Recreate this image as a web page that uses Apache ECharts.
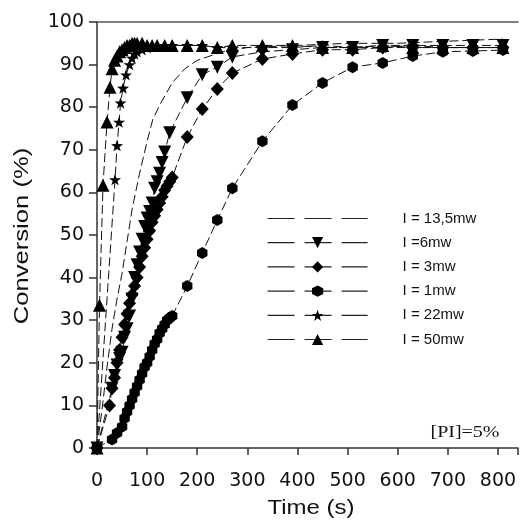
<!DOCTYPE html>
<html><head><meta charset="utf-8">
<script src="https://cdn.jsdelivr.net/npm/echarts@6/dist/echarts.min.js"></script>
<style>html,body{margin:0;padding:0;background:#fff}#c{width:521px;height:528px}</style>
</head><body><div id="c"></div>
<script>
// Data
var t135 = [0, 10, 20, 30, 40, 50, 60, 70, 85, 100, 111, 125, 150, 175, 200, 250, 300, 400, 500, 600, 700, 810];
var c135 = [0, 9, 19, 28, 35, 41, 48.5, 56, 64.5, 72, 77, 80.5, 85.7, 89, 91, 93, 94, 94.5, 95, 95, 95.5, 96];

var t6 = [0, 30, 35, 40, 45, 50, 55, 60, 65, 70, 75, 80, 85, 90, 95, 100, 105, 110, 115, 120, 125, 130, 135, 145, 180, 210, 240, 270, 330, 390, 450, 510, 570, 630, 690, 750, 810];
var c6 = [0, 14, 17, 19.5, 21, 22.5, 26, 28, 31, 35, 40, 43, 46, 49, 52, 54, 55.5, 57.5, 61, 62.5, 64.5, 67, 69.5, 74, 82.2, 87.6, 89.4, 91.8, 93, 93.5, 94, 94, 94.5, 94.5, 94.5, 94.5, 94.5];

var t3 = [0, 25, 30, 35, 40, 45, 50, 55, 60, 65, 70, 75, 80, 85, 90, 95, 100, 105, 110, 115, 120, 125, 130, 135, 140, 145, 150, 180, 210, 240, 270, 330, 390, 450, 510, 570, 630, 690, 750, 810];
var c3 = [0, 10, 14, 16.5, 20, 23, 26, 29, 31.5, 34, 36, 38, 40, 42.5, 45, 47, 49, 51, 53, 54.5, 56, 57.5, 59, 60.5, 61.5, 62.5, 63.5, 73, 79.6, 84.3, 88, 91.3, 92.5, 93.5, 93.5, 94, 94, 94, 94, 94];

var t1 = [0, 30, 40, 50, 55, 60, 65, 70, 75, 80, 85, 90, 95, 100, 105, 110, 115, 120, 125, 130, 135, 140, 145, 150, 180, 210, 240, 270, 330, 390, 450, 510, 570, 630, 690, 750, 810];
var c1 = [0, 2, 3.5, 5, 7, 8.5, 10, 11.5, 13, 14.5, 16, 17.5, 19, 20, 21.5, 23, 24.5, 25.5, 27, 28, 29, 30, 30.5, 31, 38, 45.8, 53.5, 61, 72, 80.5, 85.7, 89.4, 90.4, 92, 93, 93.2, 93.4];

var t22 = [0, 36, 40, 44, 47, 52, 58, 65, 70, 75, 80, 90, 100, 110, 120, 135, 150, 180, 210, 240, 270, 330, 390, 450, 510, 570, 630, 690, 750, 810];
var c22 = [0, 63, 71, 76.5, 81, 84.5, 87.6, 90, 91.5, 92.5, 93, 93.5, 94, 94.3, 94.5, 94.5, 94.5, 94.5, 94.5, 94, 94, 94, 94, 94.5, 94, 94, 94.5, 94, 94, 94];

var t50 = [0, 5, 12, 20, 26, 30, 35, 40, 45, 50, 55, 60, 65, 70, 75, 80, 90, 100, 110, 120, 135, 150, 180, 210, 240, 270, 330, 390, 450, 510, 570, 630, 690, 750, 810];
var c50 = [0, 33.5, 61.7, 76.5, 84.7, 89, 91, 92, 93, 93.5, 94, 94.5, 94.5, 95, 95, 95, 95, 94.5, 94.5, 94.5, 94.5, 94.5, 94.5, 94.5, 94, 94.5, 94.5, 94.5, 94, 94, 94.5, 94, 94, 94, 94];

var names = ['I = 13,5mw', 'I =6mw', 'I = 3mw', 'I = 1mw', 'I = 22mw', 'I = 50mw'];
var xTicks = [0, 100, 200, 300, 400, 500, 600, 700, 800];
var yTicks = [0, 10, 20, 30, 40, 50, 60, 70, 80, 90, 100];
var xTitle = 'Time (s)';
var yTitle = 'Conversion (%)';
var note = '[PI]=5%';

function zip(t, c) { return t.map(function (v, i) { return [v, c[i]]; }); }

var STAR = 'path://M0,-10L2.35,-3.24L9.51,-3.09L3.8,1.24L5.88,8.09L0,4L-5.88,8.09L-3.8,1.24L-9.51,-3.09L-2.35,-3.24Z';
var HEX = 'path://M0,-10L8.66,-5L8.66,5L0,10L-8.66,5L-8.66,-5Z';

function mk(name, data, symbol, size, rot) {
  return {
    type: 'line', name: name, data: data,
    symbol: symbol, symbolSize: size, symbolRotate: rot || 0, symbolKeepAspect: true,
    showSymbol: symbol !== 'none',
    lineStyle: { color: '#111', width: 1, type: [9, 4] },
    itemStyle: { color: '#000', borderWidth: 0 },
    emphasis: { disabled: true }, animation: false, z: 3
  };
}

var SANS = 'DejaVu Sans';
var chart = echarts.init(document.getElementById('c'), null, { renderer: 'canvas' });
chart.setOption({
  backgroundColor: '#fff',
  animation: false,
  grid: { left: 97, right: 1, top: 22, bottom: 80, containLabel: false },
  legend: {
    orient: 'vertical', left: 262, top: 206, itemWidth: 100, itemHeight: 14, itemGap: 9.2,
    textStyle: { fontFamily: 'Liberation Sans, Arial', fontSize: 15, color: '#111', padding: [0, 0, 0, 30] },
    data: names.map(function (n, i) {
      var d = { name: n, lineStyle: { type: [27, 10], width: 1.2, color: '#222' } };
      if (i === 0) d.itemStyle = { color: 'rgba(0,0,0,0)', borderWidth: 0, opacity: 0 };
      return d;
    })
  },
  xAxis: [{
    type: 'value', min: 0, max: 840, interval: 100, position: 'bottom',
    axisLine: { show: true, onZero: false, lineStyle: { color: '#333', width: 1.5 } },
    axisTick: { show: true, length: 7, lineStyle: { color: '#333', width: 1.5 } },
    axisLabel: { fontFamily: SANS, fontSize: 19, color: '#111', margin: 24,
      formatter: function (v) { return xTicks.indexOf(v) >= 0 ? String(v) : ''; } },
    splitLine: { show: false }
  }, {
    type: 'value', min: 0, max: 840, position: 'top',
    axisLine: { show: true, onZero: false, lineStyle: { color: '#555', width: 1.5 } },
    axisTick: { show: false }, axisLabel: { show: false }, splitLine: { show: false }
  }],
  yAxis: {
    type: 'value', min: 0, max: 100, interval: 10,
    axisLine: { show: true, onZero: false, lineStyle: { color: '#333', width: 1.5 } },
    axisTick: { show: true, length: 8, lineStyle: { color: '#333', width: 1.5 } },
    axisLabel: { fontFamily: SANS, fontSize: 19, color: '#111', margin: 13,
      formatter: function (v) { return yTicks.indexOf(v) >= 0 ? String(v) : ''; } },
    splitLine: { show: false }
  },
  graphic: [{
    type: 'text', x: 311, y: 508, scaleX: 1.2,
    style: { text: xTitle, font: '20px "Liberation Sans", Arial, sans-serif', fill: '#111', align: 'center', verticalAlign: 'middle' }
  }, {
    type: 'text', x: 22, y: 236, rotation: Math.PI / 2, scaleX: 1.28,
    style: { text: yTitle, font: '20px "Liberation Sans", Arial, sans-serif', fill: '#111', align: 'center', verticalAlign: 'middle' }
  }, {
    type: 'text', x: 465, y: 433, scaleX: 1.25,
    style: { text: note, font: '16px "Liberation Serif", "Times New Roman", serif', fill: '#111', align: 'center', verticalAlign: 'middle' }
  }],
  series: [
    mk(names[0], zip(t135, c135), 'none', 0),
    mk(names[1], zip(t6, c6), 'triangle', 13, 180),
    mk(names[2], zip(t3, c3), 'diamond', [13, 14]),
    mk(names[3], zip(t1, c1), HEX, 12),
    mk(names[4], zip(t22, c22), STAR, 12),
    mk(names[5], zip(t50, c50), 'triangle', 13)
  ]
});
</script></body></html>
